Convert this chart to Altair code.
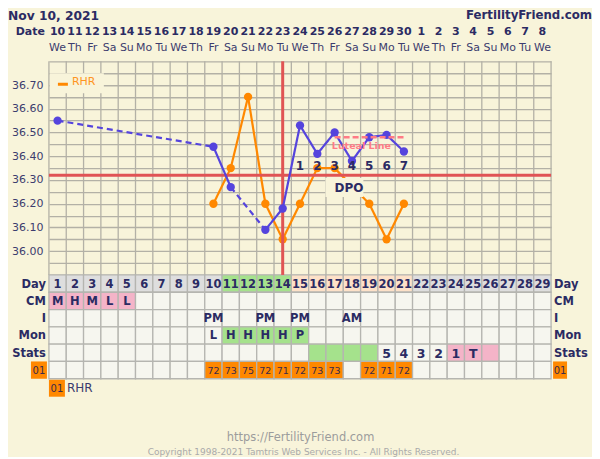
import altair as alt
import pandas as pd

# ---------------- data ----------------
date_labels = [str(d) for d in range(10, 31)] + [str(d) for d in range(1, 9)]
weekday_labels = (["We", "Th", "Fr", "Sa", "Su", "Mo", "Tu"] * 5)[:29]
cycle_days = list(range(1, 30))

temp_days = [1, 10, 11, 13, 14, 15, 16, 17, 18, 19, 20, 21]
temp_values = [36.55, 36.44, 36.27, 36.09, 36.18, 36.53, 36.41, 36.50, 36.38, 36.48, 36.49, 36.42]

rhr_days = [10, 11, 12, 13, 14, 15, 16, 17, 19, 20, 21]
rhr_values = [72, 73, 75, 72, 71, 72, 73, 73, 72, 71, 72]

coverline = 36.32
ovulation_day = 14
luteal_days = [17, 21]
luteal_level = 36.48
dpo_days = [15, 16, 17, 18, 19, 20, 21]
dpo_labels = ["1", "2", "3", "4", "5", "6", "7"]

row_names = ["Day", "CM", "I", "Mon", "Stats", "RHR"]
cm_days = [1, 2, 3, 4, 5]
cm_labels = ["M", "H", "M", "L", "L"]
i_days = [10, 13, 15, 18]
i_labels = ["PM", "PM", "PM", "AM"]
mon_days = [10, 11, 12, 13, 14, 15]
mon_labels = ["L", "H", "H", "H", "H", "P"]
stats_days = [20, 21, 22, 23, 24, 25]
stats_labels = ["5", "4", "3", "2", "1", "T"]
stats_green_days = [16, 17, 18, 19]
stats_pink_days = [24, 25, 26]
fertile_days = [11, 12, 13, 14]
luteal_table_days = [15, 16, 17, 18, 19, 20, 21]
mon_green_days = [11, 12, 13, 14, 15]

temp_ticks = [round(35.9 + 0.05 * i, 2) for i in range(19)]
rhr_ticks = [71, 73, 75]
column_edges = [i + 0.5 for i in range(30)]

# ---------------- style ----------------
BG = "#f8f4da"
NAVY = "#2b2b63"
LABEL = "#3c3c6e"
GRID = "#b3b1a6"
BLUE = "#5544dd"
ORANGE = "#ff8800"
RED = "#e05454"
PINK = "#f4b4c8"
GREEN = "#a5e28c"
PEACH = "#fde1c8"
GRAYCELL = "#dedede"
LIGHT = "#f6f6ef"
FONT = "DejaVu Sans"

W = 503
TH = 214
ROWH = 104 / 6
TB = TH + 6 * ROWH

xs = alt.Scale(domain=[0.5, 29.5], nice=False, zero=False)
ts = alt.Scale(domain=[35.9, 36.8], range=[TH, 0], nice=False, zero=False)
t_axis = alt.Axis(values=temp_ticks, grid=True, gridColor=GRID, gridWidth=1.3,
                  ticks=False, domain=False, title=None, labelOverlap=False,
                  labelFlush=False, labelFont=FONT, labelFontSize=11, labelColor=LABEL,
                  labelPadding=6,
                  labelExpr="(datum.value >= 35.99 && datum.value <= 36.71 && abs(datum.value*10 - round(datum.value*10)) < 0.001) ? format(datum.value, '.2f') : ''")
rs = alt.Scale(domain=[70, 76], range=[TH, 0], nice=False, zero=False)
r_axis = alt.Axis(orient="right", values=rhr_ticks, grid=False, ticks=False, domain=False,
                  title=None, labelFont=FONT, labelFontSize=11, labelColor="#ff9422",
                  labelPadding=5, labelOverlap=False, labelFlush=False)
rows_scale = alt.Scale(domain=row_names, range=[TH, TB], paddingInner=0, paddingOuter=0)


def X(field):
    return alt.X(field, scale=xs, axis=None)


def TY(field):
    return alt.Y(field, scale=ts, axis=t_axis)


def RY(field):
    return alt.Y(field, scale=rs, axis=None)


def segs(days, vals, dash_gaps):
    out = []
    for i in range(len(days) - 1):
        gap = (days[i + 1] - days[i]) > 1
        out.append(dict(d0=days[i], v0=vals[i], d1=days[i + 1], v1=vals[i + 1],
                        kind="dash" if (gap and dash_gaps) else "solid"))
    return pd.DataFrame(out)


# ---------------- header ----------------
hdr = pd.DataFrame({"day": cycle_days, "date": date_labels, "wd": weekday_labels})
date_txt = alt.Chart(hdr).mark_text(font=FONT, fontSize=11, fontWeight="bold", color=NAVY,
                                    baseline="alphabetic").encode(
    x=X("day:Q"), y=alt.value(-26), text="date:N")
wd_txt = alt.Chart(hdr).mark_text(font=FONT, fontSize=11, color=LABEL,
                                  baseline="alphabetic").encode(
    x=X("day:Q"), y=alt.value(-10), text="wd:N")
top_guard = alt.Chart(pd.DataFrame({"t": ["top"]})).mark_rule(strokeOpacity=0, strokeWidth=1).encode(
    x=alt.value(0), x2=alt.value(10), y=alt.value(-52.5))
title_txt = alt.Chart(pd.DataFrame({"t": ["Nov 10, 2021"]})).mark_text(
    font=FONT, fontSize=12.3, fontWeight="bold", color=NAVY, align="left", baseline="top").encode(
    x=alt.value(-41), y=alt.value(-51), text="t:N")
brand_txt = alt.Chart(pd.DataFrame({"t": ["FertilityFriend.com"]})).mark_text(
    font=FONT, fontSize=11.8, fontWeight="bold", color=NAVY, align="right", baseline="top").encode(
    x=alt.value(544), y=alt.value(-51), text="t:N")
datelbl = alt.Chart(pd.DataFrame({"t": ["Date"]})).mark_text(
    font=FONT, fontSize=11, fontWeight="bold", color=NAVY, align="right", baseline="alphabetic").encode(
    x=alt.value(-4), y=alt.value(-26), text="t:N")

# ---------------- table ----------------
vgrid = alt.Chart(pd.DataFrame({"edge": column_edges})).mark_rule(
    color=GRID, strokeWidth=1.3).encode(x=X("edge:Q"), y=alt.value(0), y2=alt.value(TH))

cells = []
for r in row_names:
    for d in cycle_days:
        fill = LIGHT
        if r == "Day":
            fill = GREEN if d in fertile_days else (PEACH if d in luteal_table_days else GRAYCELL)
        elif r == "CM" and d in cm_days:
            fill = PINK
        elif r == "Mon" and d in mon_green_days:
            fill = GREEN
        elif r == "Stats":
            if d in stats_green_days:
                fill = GREEN
            elif d in stats_pink_days:
                fill = PINK
        elif r == "RHR" and d in rhr_days:
            fill = ORANGE
        cells.append(dict(day=d, row=r, fill=fill))
cells = pd.DataFrame(cells)
cell_rects = alt.Chart(cells).mark_rect(stroke="#b5b5b0", strokeWidth=1.3).transform_calculate(
    x0="datum.day - 0.5", x1="datum.day + 0.5").encode(
    x=X("x0:Q"), x2="x1:Q", y=alt.Y("row:N", scale=rows_scale, axis=None),
    fill=alt.Fill("fill:N", scale=None))

tt = []
for d in cycle_days:
    tt.append(dict(day=d, row="Day", label=str(d)))
for d, l in zip(cm_days, cm_labels):
    tt.append(dict(day=d, row="CM", label=l))
for d, l in zip(i_days, i_labels):
    tt.append(dict(day=d, row="I", label=l))
for d, l in zip(mon_days, mon_labels):
    tt.append(dict(day=d, row="Mon", label=l))
tt = pd.DataFrame(tt)
cell_txt = alt.Chart(tt).mark_text(font=FONT, fontSize=11.5, fontWeight="bold", color=NAVY,
                                   baseline="middle", dy=1).encode(
    x=X("day:Q"), y=alt.Y("row:N", scale=rows_scale, axis=None), text="label:N")
st = pd.DataFrame({"day": stats_days, "row": "Stats", "label": stats_labels})
stats_txt = alt.Chart(st).mark_text(font=FONT, fontSize=12.5, fontWeight="bold", color=NAVY,
                                    baseline="middle", dy=1).encode(
    x=X("day:Q"), y=alt.Y("row:N", scale=rows_scale, axis=None), text="label:N")
rt = pd.DataFrame({"day": rhr_days, "row": "RHR", "label": [str(v) for v in rhr_values]})
rhr_txt = alt.Chart(rt).mark_text(font=FONT, fontSize=9.5, color="#3a2a4a",
                                  baseline="middle", dy=1).encode(
    x=X("day:Q"), y=alt.Y("row:N", scale=rows_scale, axis=None), text="label:N")

lab = pd.DataFrame({"row": row_names[:5], "label": row_names[:5]})
left_lab = alt.Chart(lab).mark_text(font=FONT, fontSize=11.5, fontWeight="bold", color=NAVY,
                                    align="right", baseline="middle", dy=1).encode(
    x=alt.value(-3), y=alt.Y("row:N", scale=rows_scale, axis=None), text="label:N")
right_lab = alt.Chart(lab).mark_text(font=FONT, fontSize=11.5, fontWeight="bold", color=NAVY,
                                     align="left", baseline="middle", dy=1).encode(
    x=alt.value(506), y=alt.Y("row:N", scale=rows_scale, axis=None), text="label:N")
ob = pd.DataFrame({"row": ["RHR"], "label": ["01"]})
left_box = alt.Chart(ob).mark_rect(color=ORANGE).encode(
    x=alt.value(-18), x2=alt.value(-2), y=alt.Y("row:N", scale=rows_scale, axis=None))
left_box_t = alt.Chart(ob).mark_text(font=FONT, fontSize=10, color="#3a2a4a", baseline="middle", dy=1).encode(
    x=alt.value(-10), y=alt.Y("row:N", scale=rows_scale, axis=None), text="label:N")
right_box = alt.Chart(ob).mark_rect(color=ORANGE).encode(
    x=alt.value(505), x2=alt.value(519), y=alt.Y("row:N", scale=rows_scale, axis=None))
right_box_t = alt.Chart(ob).mark_text(font=FONT, fontSize=10, color="#3a2a4a", baseline="middle", dy=1).encode(
    x=alt.value(512), y=alt.Y("row:N", scale=rows_scale, axis=None), text="label:N")

# bottom legend + footer
leg_box = alt.Chart(ob).mark_rect(color=ORANGE).encode(
    x=alt.value(0), x2=alt.value(16), y=alt.value(TB + 1), y2=alt.value(TB + 18))
leg_box_t = alt.Chart(ob).mark_text(font=FONT, fontSize=10, color="#3a2a4a", baseline="middle").encode(
    x=alt.value(8), y=alt.value(TB + 10), text="label:N")
leg_t = alt.Chart(pd.DataFrame({"t": ["RHR"]})).mark_text(
    font=FONT, fontSize=12, color=LABEL, align="left", baseline="middle").encode(
    x=alt.value(18), y=alt.value(TB + 9), text="t:N")
url_t = alt.Chart(pd.DataFrame({"t": ["https://FertilityFriend.com"]})).mark_text(
    font=FONT, fontSize=11.5, color="#9c9c9c", baseline="alphabetic").encode(
    x=alt.value(252), y=alt.value(380), text="t:N")
copy_t = alt.Chart(pd.DataFrame({"t": ["Copyright 1998-2021 Tamtris Web Services Inc. - All Rights Reserved."]})).mark_text(
    font=FONT, fontSize=9, color="#aaaaaa", baseline="alphabetic").encode(
    x=alt.value(255), y=alt.value(394), text="t:N")

# ---------------- temperature panel ----------------
cov = alt.Chart(pd.DataFrame({"d0": [0.5], "d1": [29.5], "temp": [coverline]})).mark_rule(
    color=RED, strokeWidth=3).encode(x=X("d0:Q"), x2="d1:Q", y=TY("temp:Q"))
ovl = alt.Chart(pd.DataFrame({"day": [ovulation_day]})).mark_rule(
    color=RED, strokeWidth=3).encode(x=X("day:Q"), y=alt.value(0), y2=alt.value(TH))
lut = alt.Chart(pd.DataFrame({"d0": [luteal_days[0]], "d1": [luteal_days[1]], "temp": [luteal_level]})).mark_rule(
    color="#ff7b86", strokeWidth=2.5, strokeDash=[6, 3]).encode(x=X("d0:Q"), x2="d1:Q", y=TY("temp:Q"))
lut_t = alt.Chart(pd.DataFrame({"t": ["Luteal Line"]})).mark_text(
    font=FONT, fontSize=9.5, fontWeight="bold", color="#ff7b86", baseline="middle").encode(
    x=alt.value(313), y=alt.value(85), text="t:N")

tseg = segs(temp_days, temp_values, True)
temp_lines = alt.Chart(tseg).mark_rule(color=BLUE, strokeWidth=2.2).encode(
    x=X("d0:Q"), x2="d1:Q", y=TY("v0:Q"), y2="v1:Q",
    strokeDash=alt.StrokeDash("kind:N", scale=alt.Scale(domain=["solid", "dash"], range=[[1, 0], [6, 4]]), legend=None))
temp_pts = alt.Chart(pd.DataFrame({"day": temp_days, "temp": temp_values})).mark_circle(
    color=BLUE, size=70, opacity=1).encode(x=X("day:Q"), y=TY("temp:Q"))

rseg = segs(rhr_days, rhr_values, False)
rhr_lines = alt.Chart(rseg).mark_rule(color=ORANGE, strokeWidth=2.2).encode(
    x=X("d0:Q"), x2="d1:Q", y=RY("v0:Q"), y2="v1:Q")
rhr_pts = alt.Chart(pd.DataFrame({"day": rhr_days, "rhr": rhr_values})).mark_circle(
    color=ORANGE, size=70, opacity=1).encode(x=X("day:Q"), y=alt.Y("rhr:Q", scale=rs, axis=r_axis))

dpo_box = alt.Chart(pd.DataFrame({"t": ["DPO"]})).mark_rect(color=BG).encode(
    x=alt.value(277), x2=alt.value(315), y=alt.value(117), y2=alt.value(136))
dpo_t = alt.Chart(pd.DataFrame({"t": ["DPO"]})).mark_text(
    font=FONT, fontSize=12, fontWeight="bold", color=NAVY, baseline="middle").encode(
    x=alt.value(300.5), y=alt.value(127), text="t:N")
dpo_n = alt.Chart(pd.DataFrame({"day": dpo_days, "label": dpo_labels})).mark_text(
    font=FONT, fontSize=12, fontWeight="bold", color=NAVY, baseline="middle").encode(
    x=X("day:Q"), y=alt.value(105), text="label:N")

leg_bg = alt.Chart(pd.DataFrame({"t": ["RHR"]})).mark_rect(color=BG).encode(
    x=alt.value(1), x2=alt.value(55), y=alt.value(12), y2=alt.value(32))
leg_line = alt.Chart(pd.DataFrame({"t": ["RHR"]})).mark_rule(color=ORANGE, strokeWidth=3).encode(
    x=alt.value(9), x2=alt.value(19), y=alt.value(23))
leg_lab = alt.Chart(pd.DataFrame({"t": ["RHR"]})).mark_text(
    font=FONT, fontSize=11, color="#ff9422", align="left", baseline="middle").encode(
    x=alt.value(23), y=alt.value(20.5), text="t:N")

temp_layer = alt.layer(cov, ovl, temp_lines, temp_pts, lut, lut_t)
rhr_layer = alt.layer(rhr_lines, rhr_pts)
table_layer = alt.layer(vgrid, cell_rects, cell_txt, stats_txt, rhr_txt, left_lab, right_lab,
                        left_box, left_box_t, right_box, right_box_t)
deco_layer = alt.layer(leg_bg, leg_line, leg_lab, dpo_box, dpo_t, dpo_n,
                       top_guard, date_txt, wd_txt, title_txt, brand_txt, datelbl,
                       leg_box, leg_box_t, leg_t, url_t, copy_t)

chart = alt.layer(table_layer, rhr_layer, temp_layer, deco_layer).resolve_scale(
    y="independent").properties(width=W, height=TB, padding=0, background=BG).configure_view(
    stroke=None)

chart.save("out.html", embed_options={"renderer": "svg", "actions": False})
